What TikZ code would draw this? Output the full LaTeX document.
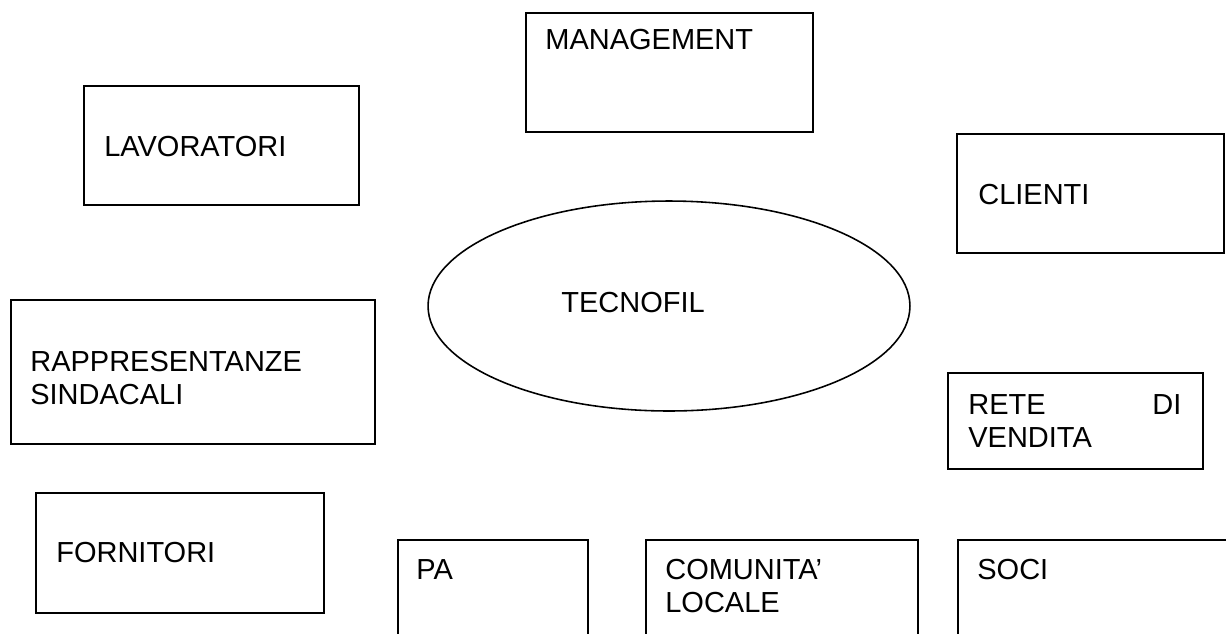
\documentclass[tikz,border=0pt]{standalone}
\usepackage{fontspec}
\setmainfont{Liberation Sans}
\usepackage{tikz}
\usetikzlibrary{shapes.geometric}

\begin{document}
\begin{tikzpicture}[x=0.02cm, y=-0.02cm,
  box/.style={draw, line width=1pt, anchor=north west, inner sep=0pt},
  txt/.style={anchor=west, inner sep=0pt, align=left, font=\fontsize{16.5}{18.8}\selectfont}]
\clip (0,0) rectangle (1226,633);
\fill[white] (0,0) rectangle (1226,633);
\node[box, minimum width=5.74cm, minimum height=2.38cm] (man) at (525,12) {};
\node[box, minimum width=5.5cm, minimum height=2.38cm] (lav) at (83,85) {};
\node[box, minimum width=5.34cm, minimum height=2.38cm] (cli) at (956,133) {};
\node[box, minimum width=7.28cm, minimum height=2.88cm] (rap) at (10,299) {};
\node[box, minimum width=5.1cm, minimum height=1.92cm] (rete) at (947,372) {};
\node[box, minimum width=5.76cm, minimum height=2.4cm] (forn) at (35,492) {};
\node[box, minimum width=3.8cm, minimum height=2.4cm] (pa) at (397,539) {};
\node[box, minimum width=5.44cm, minimum height=2.4cm] (com) at (645,539) {};
\node[box, minimum width=6cm, minimum height=2.4cm] (soc) at (957,539) {};
\node[draw, ellipse, line width=0.9pt, minimum width=9.64cm, minimum height=4.2cm, inner sep=0pt] (tec) at (669,306) {};
\node[txt] (manT) at (545,40) {MANAGEMENT};
\node[txt] (lavT) at (104,147) {LAVORATORI};
\node[txt] (cliT) at (978,195) {CLIENTI};
\node[txt] (tecT) at (561,303) {TECNOFIL};
\node[txt] (rapT) at (30,378) {RAPPRESENTANZE\\SINDACALI};
\node[txt, text width=4.26cm] (reteT) at (968,421) {RETE\hfill DI\\VENDITA};
\node[txt] (fornT) at (56,553) {FORNITORI};
\node[txt] (paT) at (416,570) {PA};
\node[txt] (comT) at (665,586) {COMUNITA’\\LOCALE};
\node[txt] (socT) at (977,570) {SOCI};
\end{tikzpicture}
\end{document}
